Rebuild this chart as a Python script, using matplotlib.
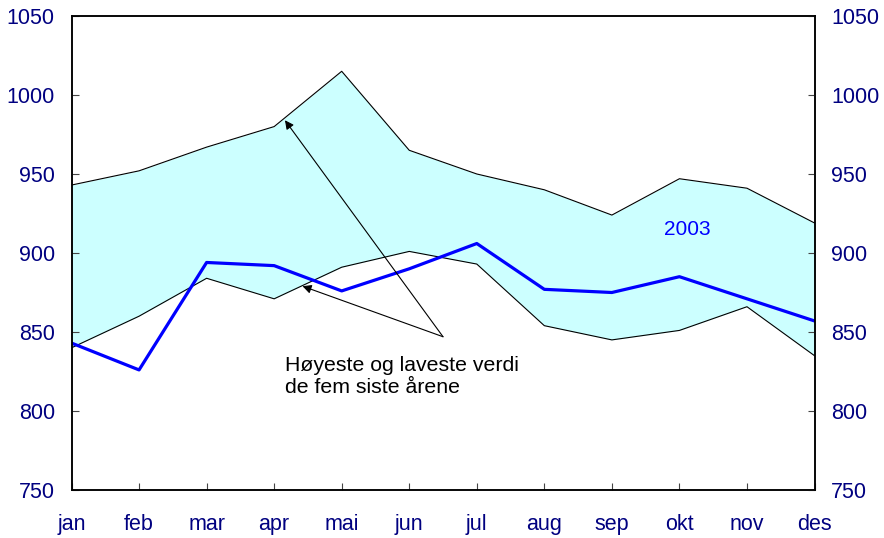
import matplotlib
matplotlib.use("Agg")
import matplotlib.pyplot as plt
import numpy as np

months = ["jan", "feb", "mar", "apr", "mai", "jun", "jul", "aug", "sep", "okt", "nov", "des"]
high = [943, 952, 967, 980, 1015, 965, 950, 940, 924, 947, 941, 919]
low = [840, 860, 884, 871, 891, 901, 893, 854, 845, 851, 866, 835]
y2003 = [843, 826, 894, 892, 876, 890, 906, 877, 875, 885, 871, 857]
yticks = [750, 800, 850, 900, 950, 1000, 1050]

plt.rcParams['font.family'] = ['Liberation Sans', 'DejaVu Sans']

navy = '#000080'
fs = 15.5
fig = plt.figure(figsize=(8.84, 5.38), dpi=100)
ax = fig.add_axes([0.0809, 0.0892, 0.9214 - 0.0809, 0.9703 - 0.0892])
x = np.arange(len(months))

ax.fill_between(x, low, high, color='#CCFFFF', lw=0)
ax.plot(x, high, color='black', lw=0.8)
ax.plot(x, low, color='black', lw=0.8)
ax.plot(x, y2003, color='#0000FF', lw=2.3)

ax.set_xlim(0, 11)
ax.set_ylim(750, 1050)
ax.set_xticks(x)
ax.set_xticklabels(months)
ax.set_yticks(yticks)
ax.tick_params(axis='y', direction='in', length=5, width=0.8, colors='#444444',
               labelcolor=navy, labelsize=fs, pad=12)
ax.tick_params(axis='x', direction='in', length=5, width=0.8, colors='#444444',
               labelcolor=navy, labelsize=fs, pad=17)
for s in ax.spines.values():
    s.set_linewidth(1.1)
    s.set_color('black')

ax2 = ax.twinx()
ax2.set_ylim(750, 1050)
ax2.set_yticks(yticks)
ax2.tick_params(axis='y', direction='in', length=5, width=0.8, colors='#444444',
                labelcolor=navy, labelsize=fs, pad=12)
for s in ax2.spines.values():
    s.set_linewidth(1.1)

ax.text(9.11, 915, "2003", color='#0000FF', fontsize=fs - 0.5, ha='center', va='center')

ax.text(3.16, 835, "Høyeste og laveste verdi\nde fem siste årene", fontsize=15.3,
        ha='left', va='top', color='black', linespacing=1.22)

ap = dict(arrowstyle='-|>', mutation_scale=13, lw=0.8, color='black',
          shrinkA=0, shrinkB=0)
ax.annotate("", xy=(3.16, 984), xytext=(5.5, 847), arrowprops=ap)
ax.annotate("", xy=(3.42, 879), xytext=(5.5, 847), arrowprops=ap)

fig.savefig("out.png", dpi=100)
